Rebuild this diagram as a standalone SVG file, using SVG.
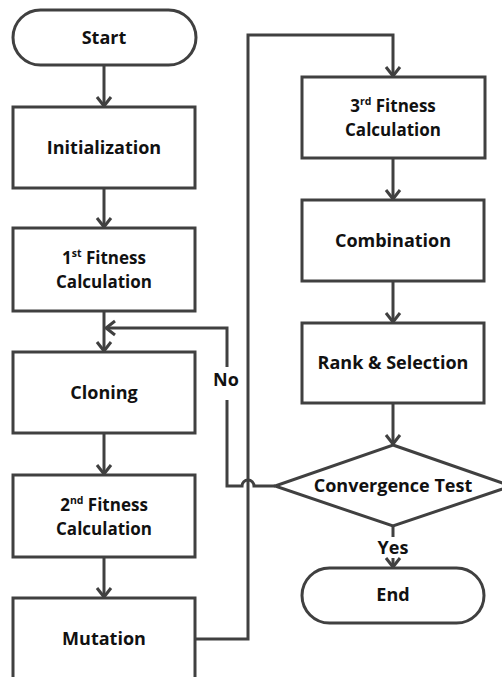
<svg xmlns="http://www.w3.org/2000/svg" width="502" height="677" viewBox="0 0 502 677">
<style>
.s{fill:#fff;stroke:#404040;stroke-width:3}
.c{fill:none;stroke:#404040;stroke-width:3}
text{font-family:"Open Sans","Noto Sans",sans-serif;font-weight:700;font-size:18px;fill:#111;text-anchor:middle}
.t{font-size:17px}
.sup{font-size:10.5px}
</style>
<defs>
<marker id="a" markerUnits="userSpaceOnUse" markerWidth="20" markerHeight="20" viewBox="-10 -10 20 20" refX="0" refY="0" orient="auto">
<path d="M-9,-7 L0,0 L-9,7" fill="none" stroke="#404040" stroke-width="3"/>
</marker>
</defs>
<rect width="502" height="677" fill="#fff"/>
<g id="connectors">
<path class="c" d="M104,65 V106" marker-end="url(#a)"/>
<path class="c" d="M104,188 V227" marker-end="url(#a)"/>
<path class="c" d="M104,311 V351" marker-end="url(#a)"/>
<path class="c" d="M104,433 V474" marker-end="url(#a)"/>
<path class="c" d="M104,557 V597" marker-end="url(#a)"/>
<path class="c" d="M195,639 H248 V35 H393 V76" marker-end="url(#a)"/>
<path class="c" d="M393,158 V199" marker-end="url(#a)"/>
<path class="c" d="M393,281 V322" marker-end="url(#a)"/>
<path class="c" d="M393,403 V444" marker-end="url(#a)"/>
<path class="c" d="M393,526 V537"/>
<path class="c" d="M393,558 V567" marker-end="url(#a)"/>
<path class="c" d="M275,486 H254 A6,6 0 0 0 242,486 H227 V400"/>
<path class="c" d="M227,367 V328 H106" marker-end="url(#a)"/>
<text x="226" y="386">No</text>
<text x="393" y="554">Yes</text>
</g>
<g id="start"><rect class="s" x="13" y="10" width="183" height="55" rx="27.5"/><text x="104" y="44">Start</text></g>
<g id="init"><rect class="s" x="13" y="107" width="182" height="81"/><text x="104" y="154">Initialization</text></g>
<g id="fit1"><rect class="s" x="13" y="228" width="182" height="83"/><text class="t"><tspan x="104" y="264">1<tspan class="sup" dy="-7">st</tspan><tspan dy="7"> Fitness</tspan></tspan><tspan x="104" y="287.5">Calculation</tspan></text></g>
<g id="cloning"><rect class="s" x="13" y="352" width="182" height="81"/><text x="104" y="399">Cloning</text></g>
<g id="fit2"><rect class="s" x="13" y="475" width="182" height="82"/><text class="t"><tspan x="104" y="511">2<tspan class="sup" dy="-7">nd</tspan><tspan dy="7"> Fitness</tspan></tspan><tspan x="104" y="534.5">Calculation</tspan></text></g>
<g id="mutation"><rect class="s" x="13" y="598" width="182" height="100"/><text x="104" y="645">Mutation</text></g>
<g id="fit3"><rect class="s" x="302" y="77" width="183" height="81"/><text class="t"><tspan x="393" y="112">3<tspan class="sup" dy="-7">rd</tspan><tspan dy="7"> Fitness</tspan></tspan><tspan x="393" y="135.5">Calculation</tspan></text></g>
<g id="combination"><rect class="s" x="302" y="200" width="182" height="81"/><text x="393" y="247">Combination</text></g>
<g id="rank"><rect class="s" x="302" y="323" width="182" height="80"/><text x="393" y="369">Rank &amp; Selection</text></g>
<g id="convergence"><polygon class="s" points="393,445 511,486 393,526 275,486"/><text x="393" y="492">Convergence Test</text></g>
<g id="end"><rect class="s" x="302" y="568" width="182" height="55" rx="27.5"/><text x="393" y="601">End</text></g>
</svg>
